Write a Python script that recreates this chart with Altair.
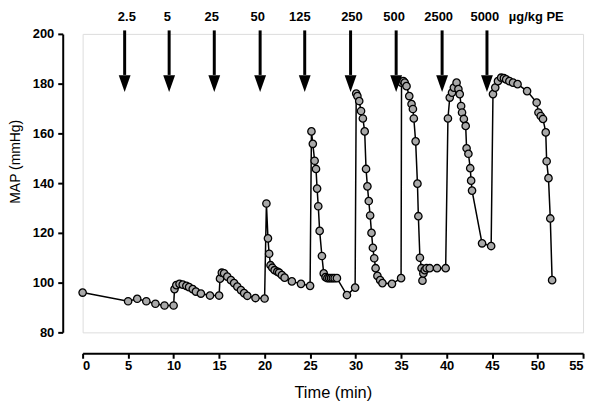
import altair as alt
import pandas as pd

# MAP time course (min, mmHg)
time_min = [0, 5, 6, 7, 8, 9, 10,
            10.1, 10.3, 10.65, 11.0, 11.4, 11.7, 12.1, 12.45, 13.0, 14.0, 15.0,
            15.1, 15.3, 15.55, 15.9, 16.3, 16.65, 17.0, 17.4, 17.75, 18.1, 19.0, 20.0,
            20.2, 20.37, 20.5, 20.65, 20.85, 21.1, 21.4, 21.6, 21.9, 22.2, 23.0, 24.0, 25.0,
            25.15, 25.3, 25.5, 25.65, 25.77, 25.9, 26.05, 26.3, 26.5, 26.7, 26.9, 27.1, 27.3,
            27.5, 27.7, 27.95, 29.05, 29.95,
            30.07, 30.2, 30.4, 30.6, 30.8, 31.0, 31.15, 31.3, 31.45, 31.6, 31.75, 31.9,
            32.05, 32.2, 32.4, 32.7, 32.95, 34.0, 35.0,
            35.05, 35.25, 35.4, 35.6, 35.9, 36.15, 36.3, 36.4, 36.6, 36.8, 36.9, 37.07,
            37.25, 37.35, 37.45, 37.6, 37.8, 38.15, 38.95, 39.9,
            40.15, 40.35, 40.6, 40.8, 41.1, 41.3, 41.45, 41.6, 41.7, 41.9, 42.1, 42.2,
            42.4, 42.6, 42.7, 42.8, 43.9, 44.9,
            45.1, 45.35, 45.65, 46.0, 46.3, 46.55, 46.9, 47.3, 47.8, 48.85, 49.9, 50.1,
            50.35, 50.6, 50.9, 51.0, 51.2, 51.4, 51.6]
map_mmhg = [96, 92.5, 93.5, 92.5, 91.5, 90.8, 90.8,
            97.4, 99, 99.5, 99.2, 98.7, 98.2, 97.4, 96.4, 95.6, 94.8, 94.8,
            101.6, 104, 103.7, 102.4, 101, 99.8, 98.4, 97, 95.8, 94.7, 93.8, 93.6,
            131.8, 117.8, 111.6, 107, 106, 105, 104.4, 104, 103, 102, 100.5, 99.5, 98.7,
            160.8, 155.8, 149, 145.7, 137.8, 130.7, 120.8, 110.7, 103.7, 102.2, 101.8, 101.8, 101.8,
            101.8, 101.8, 101.8, 95, 98,
            176, 175, 173, 169, 166, 160.8, 145.7, 138.7, 132.8, 127, 120, 114,
            109.8, 105.8, 102.7, 101, 99.8, 99.5, 101.8,
            180.4, 181, 180.4, 179, 175, 171.8, 169.8, 166, 156.8, 139.8, 126.7, 110,
            105.8, 100.8, 103.7, 105, 105.8, 105.8, 105.8, 105.8,
            166, 174.4, 176.4, 178.4, 180.4, 177.8, 175.8, 171, 168.4, 165.8, 163, 154,
            151.8, 146, 141, 137, 115.8, 114.7,
            175.8, 178.4, 181, 182.4, 182.2, 181.7, 181, 180.4, 179.8, 177, 172.4, 168.4,
            167, 165.8, 160.4, 148.8, 142, 125.8, 101]

# PE doses (µg/kg) and injection times
dose_labels = ["2.5", "5", "25", "50", "125", "250", "500", "2500", "5000"]
dose_time = [4.62, 9.51, 14.47, 19.51, 24.41, 29.45, 34.46, 39.51, 44.44]
label_time = [4.86, 9.31, 14.19, 19.25, 23.87, 29.6, 34.23, 39.13, 44.21]
unit_label = ["µg/kg PE"]
unit_time = [49.86]

x_ticks = [0, 5, 10, 15, 20, 25, 30, 35, 40, 45, 50, 55]
y_ticks = [80, 100, 120, 140, 160, 180, 200]

df = pd.DataFrame({"t": time_min, "v": map_mmhg, "i": range(len(time_min))})
arrows = pd.DataFrame({"t": dose_time, "top": [201.4] * len(dose_time),
                       "bot": [183.5] * len(dose_time), "head": [180.0] * len(dose_time)})
labels = pd.DataFrame({"t": label_time + unit_time, "lab": dose_labels + unit_label,
                       "y": [206.9] * (len(label_time) + 1)})

FONT = "Liberation Sans"
xs = alt.Scale(domain=[0, 55], nice=False, zero=False)
ys = alt.Scale(domain=[80, 200], nice=False, zero=False)

x_axis = alt.Axis(values=x_ticks, title="Time (min)", offset=21, grid=False,
                  domainColor="black", domainWidth=2, tickColor="black", tickWidth=2,
                  tickSize=5, labelFont=FONT, labelFontSize=13, labelFontWeight="bold",
                  labelColor="black", labelPadding=1, titleFont=FONT, titleFontSize=16.5,
                  titleFontWeight="normal", titleColor="black", titlePadding=12)
y_axis = alt.Axis(values=y_ticks, title="MAP (mmHg)", offset=20, grid=False,
                  domainColor="black", domainWidth=2, tickColor="black", tickWidth=2,
                  tickSize=5, labelFont=FONT, labelFontSize=13, labelFontWeight="bold",
                  labelColor="black", labelPadding=4, titleFont=FONT, titleFontSize=14,
                  titleFontWeight="normal", titleColor="black", titlePadding=10,
                  titleY=128)

line = alt.Chart(df).mark_line(color="black", strokeWidth=1.5).encode(
    x=alt.X("t:Q", scale=xs, axis=x_axis),
    y=alt.Y("v:Q", scale=ys, axis=y_axis),
    order="i:Q",
)
pts = alt.Chart(df).mark_point(filled=True, fill="#a9a9a9", stroke="black",
                               strokeWidth=1.3, size=55, opacity=1).encode(
    x=alt.X("t:Q", scale=xs), y=alt.Y("v:Q", scale=ys))

shaft = alt.Chart(arrows).mark_rule(color="black", strokeWidth=3).encode(
    x=alt.X("t:Q", scale=xs), y=alt.Y("top:Q", scale=ys), y2="bot:Q")
head = alt.Chart(arrows).mark_point(shape="M-0.7,-1L0.7,-1L0,1Z", filled=True,
                                    color="black", size=289, opacity=1).encode(
    x=alt.X("t:Q", scale=xs), y=alt.Y("head:Q", scale=ys))
txt = alt.Chart(labels).mark_text(font=FONT, fontSize=13, fontWeight="bold",
                                  color="black", baseline="middle", align="center").encode(
    x=alt.X("t:Q", scale=xs), y=alt.Y("y:Q", scale=ys), text="lab:N")

chart = alt.layer(line, pts, shaft, head, txt).properties(
    width=503, height=300,
    autosize=alt.AutoSizeParams(type="none"),
    padding={"left": 75, "top": 25, "right": 10, "bottom": 76},
).configure_view(stroke=None).configure(background="white")

chart.save("out.html", embed_options={"renderer": "svg", "actions": False})
